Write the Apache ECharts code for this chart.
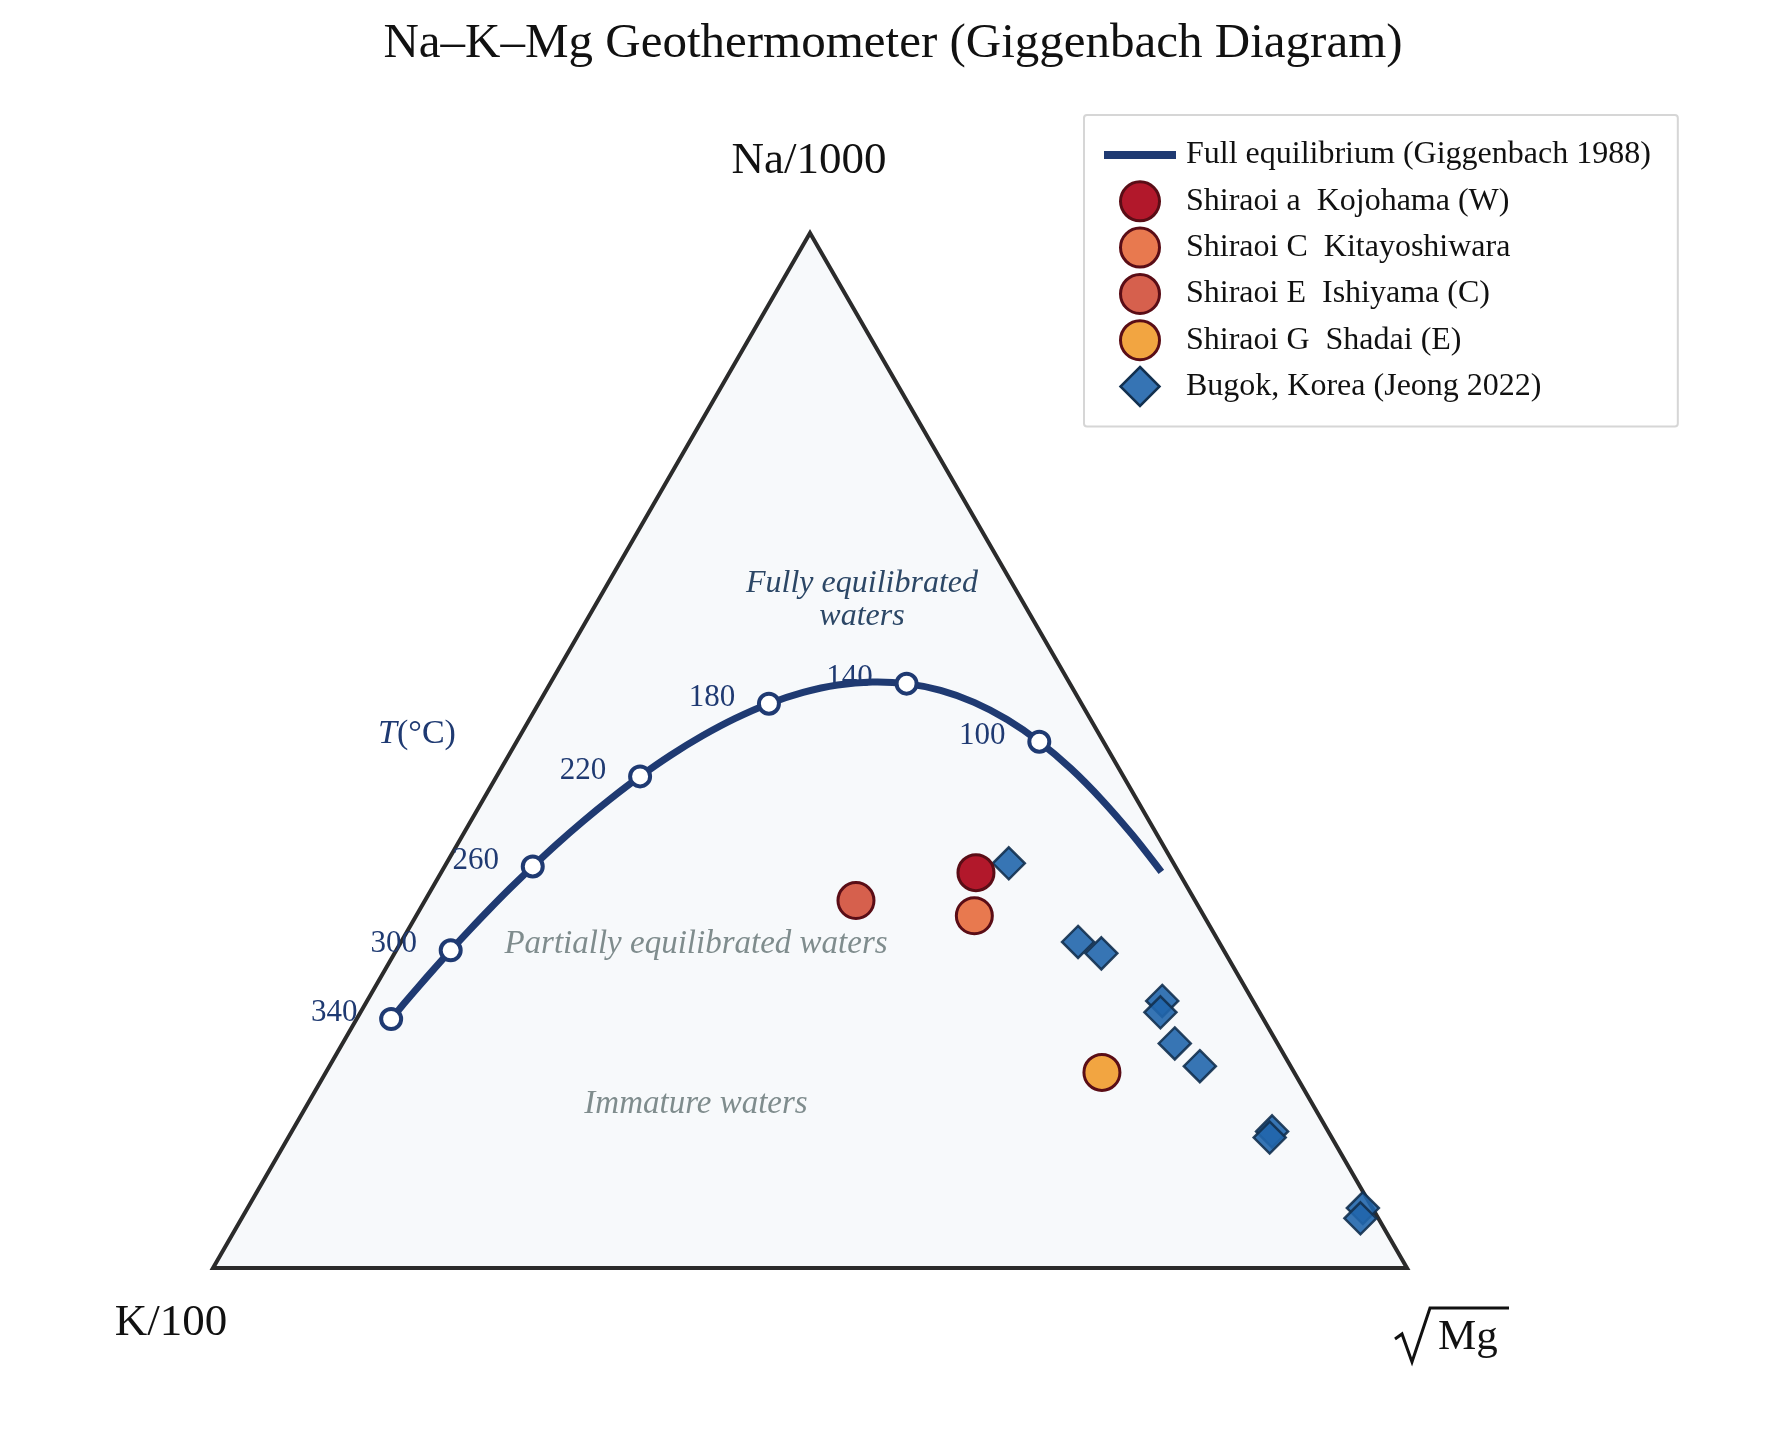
<!DOCTYPE html>
<html>
<head>
<meta charset="utf-8">
<script src="https://cdn.jsdelivr.net/npm/echarts@6/dist/echarts.min.js"></script>
<style>html,body{margin:0;padding:0;background:#fff;}#c{width:1786px;height:1434px;}</style>
</head>
<body>
<div id="c"></div>
<script>
// ---- Data (ternary percentages: Na/1000, K/100, sqrt(Mg)) ----
const curveT  = [340, 330, 320, 310, 300, 290, 280, 270, 260, 250, 240, 230, 220, 210, 200, 190, 180, 170, 160, 150, 140, 130, 120, 110, 100, 90, 80, 70, 60];
const curveNa = [24.06, 25.57, 27.18, 28.88, 30.69, 32.60, 34.59, 36.66, 38.80, 40.98, 43.18, 45.37, 47.50, 49.54, 51.42, 53.10, 54.52, 55.61, 56.33, 56.62, 56.46, 55.81, 54.65, 52.99, 50.85, 48.25, 45.24, 41.90, 38.27];
const curveK  = [73.05, 71.20, 69.21, 67.06, 64.74, 62.26, 59.62, 56.80, 53.82, 50.68, 47.40, 43.99, 40.48, 36.90, 33.30, 29.71, 26.18, 22.77, 19.53, 16.48, 13.68, 11.16, 8.93, 7.00, 5.37, 4.02, 2.94, 2.09, 1.44];
const curveMg = [2.89, 3.23, 3.62, 4.06, 4.56, 5.14, 5.79, 6.53, 7.38, 8.33, 9.42, 10.65, 12.02, 13.56, 15.28, 17.19, 19.30, 21.62, 24.14, 26.90, 29.86, 33.04, 36.42, 40.01, 43.78, 47.73, 51.82, 56.01, 60.29];
const markedTemps = [340, 300, 260, 220, 180, 140, 100];

const shiraoiNames = ['Shiraoi a  Kojohama (W)', 'Shiraoi C  Kitayoshiwara', 'Shiraoi E  Ishiyama (C)', 'Shiraoi G  Shadai (E)'];
const shiraoiNa = [38.2, 34.0, 35.5, 18.9];
const shiraoiK  = [17.0, 19.2, 28.4, 16.1];
const shiraoiMg = [44.8, 46.7, 36.1, 65.0];

const bugokName = 'Bugok, Korea (Jeong 2022)';
const bugokNa = [39.1, 31.5, 30.4, 25.8, 24.7, 21.7, 19.5, 13.2, 12.6, 5.8, 4.8];
const bugokK  = [13.8, 11.8, 10.4, 7.6, 8.3, 8.6, 7.6, 4.7, 5.2, 0.8, 1.5];
const bugokMg = [47.1, 56.7, 59.2, 66.6, 67.0, 69.7, 72.9, 82.1, 82.2, 93.5, 93.7];

const curveName = 'Full equilibrium (Giggenbach 1988)';

// ---- styles ----
const SERIF = '"Liberation Serif", "Times New Roman", serif';
const NAVY = '#1f3a72';
const shiraoiColors = ['#b2182b', '#e8794f', '#d6604d', '#f2a541'];
const CIRCLE_EDGE = '#5a0d16';

// ternary -> cartesian (K at left, sqrtMg at right, Na at top)
const H = Math.sqrt(3) / 2;
function tern(na, k, mg) {
  const s = na + k + mg;
  const a = na / s, c = mg / s;
  return [c + a / 2, a * H];
}

const curveData = curveT.map((t, i) => tern(curveNa[i], curveK[i], curveMg[i]));
const markerData = markedTemps.map(t => {
  const i = curveT.indexOf(t);
  const p = tern(curveNa[i], curveK[i], curveMg[i]);
  return [p[0], p[1], t];
});
const corners = [tern(0, 100, 0), tern(0, 0, 100), tern(100, 0, 0)];

const series = [];
// triangle frame
series.push({
  type: 'custom', name: 'frame', silent: true, z: 1,
  data: [[0, 0]],
  renderItem: function (params, api) {
    return {
      type: 'polygon',
      shape: {points: corners.map(c => api.coord(c))},
      style: {fill: '#f7f9fb', stroke: '#2b2b2b', lineWidth: 4, lineJoin: 'miter'}
    };
  }
});
// temperature labels (drawn under the curve)
series.push({
  type: 'scatter', name: 'T labels', data: markerData, z: 2, silent: true,
  symbol: 'circle', symbolSize: 1,
  itemStyle: {color: 'rgba(0,0,0,0)', opacity: 1},
  label: {
    show: true, position: 'inside', offset: [-57, -6],
    formatter: p => String(p.value[2]),
    fontFamily: SERIF, fontSize: 31, color: NAVY
  }
});
// equilibrium curve (smooth bezier through the curve points via the axis scales)
series.push({
  type: 'custom', name: curveName, z: 3, silent: true,
  itemStyle: {color: NAVY},
  data: curveData,
  renderItem: function (params, api) {
    if (params.dataIndex !== 0) return null;
    return {
      type: 'polyline',
      shape: {points: curveData.map(p => api.coord(p)), smooth: 0.35},
      style: {fill: null, stroke: NAVY, lineWidth: 7, lineJoin: 'round', lineCap: 'butt'}
    };
  }
});
// temperature markers
series.push({
  type: 'scatter', name: 'T markers', data: markerData, z: 4,
  symbol: 'circle', symbolSize: 20,
  itemStyle: {color: '#ffffff', borderColor: NAVY, borderWidth: 4, opacity: 1}
});
series.push({
  type: 'scatter', name: bugokName, z: 5,
  data: bugokNa.map((v, i) => tern(v, bugokK[i], bugokMg[i])),
  symbol: 'diamond', symbolSize: 32,
  itemStyle: {color: '#2166ac', opacity: 0.9, borderColor: '#12304f', borderWidth: 2.5}
});
shiraoiNames.forEach((n, i) => {
  series.push({
    type: 'scatter', name: n, z: 6,
    data: [tern(shiraoiNa[i], shiraoiK[i], shiraoiMg[i])],
    symbol: 'circle', symbolSize: 36,
    itemStyle: {color: shiraoiColors[i], borderColor: CIRCLE_EDGE, borderWidth: 3, opacity: 1}
  });
});

const legendData = [{name: curveName, icon: 'path://M0,0H72V8H0Z', itemStyle: {color: NAVY, borderWidth: 0}}]
  .concat(shiraoiNames.map((n, i) => ({name: n, icon: 'circle', itemStyle: {color: shiraoiColors[i], borderColor: CIRCLE_EDGE, borderWidth: 3, opacity: 1}})))
  .concat([{name: bugokName, icon: 'path://M0,-1L1,0L0,1L-1,0Z', itemStyle: {color: '#3674b4', borderColor: '#12304f', borderWidth: 2.5, opacity: 1}}]);

const T_Z = 20;
const graphics = [
  {type: 'text', z: T_Z, x: 809, y: 161, style: {text: 'Na/1000', font: '45px ' + SERIF, fill: '#111', textAlign: 'center', textVerticalAlign: 'middle'}},
  {type: 'text', z: T_Z, x: 171, y: 1323, style: {text: 'K/100', font: '45px ' + SERIF, fill: '#111', textAlign: 'center', textVerticalAlign: 'middle'}},
  {type: 'polyline', z: T_Z, shape: {points: [[1395, 1339], [1402, 1334], [1412, 1362], [1430, 1308], [1509, 1308]]}, style: {stroke: '#111', lineWidth: 3, fill: null, lineJoin: 'miter'}},
  {type: 'text', z: T_Z, x: 1438, y: 1338, style: {text: 'Mg', font: '43px ' + SERIF, fill: '#111', textAlign: 'left', textVerticalAlign: 'middle'}},
  {type: 'text', z: T_Z, x: 417, y: 734, style: {
    text: '{i|T}{n|(°C)}', textAlign: 'center', textVerticalAlign: 'middle',
    rich: {i: {font: 'italic 34px ' + SERIF, fill: NAVY}, n: {font: '34px ' + SERIF, fill: NAVY}}
  }},
  {type: 'text', z: T_Z, x: 862, y: 584, style: {text: 'Fully equilibrated', font: 'italic 32px ' + SERIF, fill: '#2c4766', textAlign: 'center', textVerticalAlign: 'middle'}},
  {type: 'text', z: T_Z, x: 862, y: 617, style: {text: 'waters', font: 'italic 32px ' + SERIF, fill: '#2c4766', textAlign: 'center', textVerticalAlign: 'middle'}},
  {type: 'text', z: T_Z, x: 696, y: 944, style: {text: 'Partially equilibrated waters', font: 'italic 33px ' + SERIF, fill: '#7f8c8d', textAlign: 'center', textVerticalAlign: 'middle'}},
  {type: 'text', z: T_Z, x: 696, y: 1104, style: {text: 'Immature waters', font: 'italic 33px ' + SERIF, fill: '#7f8c8d', textAlign: 'center', textVerticalAlign: 'middle'}}
];

const chart = echarts.init(document.getElementById('c'), null, {renderer: 'canvas'});
chart.setOption({
  animation: false,
  backgroundColor: '#ffffff',
  title: {
    text: 'Na\u2013K\u2013Mg Geothermometer (Giggenbach Diagram)',
    left: 'center', top: 15,
    textStyle: {fontFamily: SERIF, fontSize: 49, fontWeight: 'normal', color: '#111'}
  },
  grid: {left: 213, top: 233, width: 1194, height: 1035, containLabel: false},
  xAxis: {type: 'value', min: 0, max: 1, show: false},
  yAxis: {type: 'value', min: 0, max: H, show: false},
  legend: {
    orient: 'vertical', left: 1084, top: 115,
    padding: [17, 27, 17, 20],
    itemWidth: 72, itemHeight: 39, itemGap: 0.3,
    backgroundColor: '#ffffff', borderColor: '#d6d6d6', borderWidth: 2, borderRadius: 3,
    textStyle: {fontFamily: SERIF, fontSize: 32, color: '#111', padding: [0, 0, 0, 5], lineHeight: 46},
    selectedMode: false,
    data: legendData
  },
  graphic: graphics,
  series: series
});
</script>
</body>
</html>
